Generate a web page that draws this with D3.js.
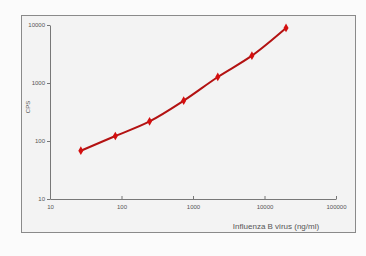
<!DOCTYPE html>
<html>
<head>
<meta charset="utf-8">
<script src="https://cdn.jsdelivr.net/npm/d3@7"></script>
<style>
  body { margin: 0; background: #fbfbfb; }
  text { font-family: "Liberation Sans", Arial, sans-serif; fill: #555; }
</style>
</head>
<body>
<div id="chart"></div>
<script>
// data
var concentration = [27, 82, 247, 741, 2222, 6667, 20000];
var cps = [68, 122, 218, 496, 1270, 2960, 8900];
var xTicks = [10, 100, 1000, 10000, 100000];
var yTicks = [10, 100, 1000, 10000];

var width = 366, height = 256;

var svg = d3.select("#chart").append("svg")
    .attr("width", width)
    .attr("height", height);

// frame
svg.append("rect")
    .attr("x", 21.5).attr("y", 15.5)
    .attr("width", 334).attr("height", 217)
    .attr("fill", "#f3f3f3")
    .attr("stroke", "#8a8a8a");

var x = d3.scaleLog().domain([10, 100000]).range([50, 336]);
var y = d3.scaleLog().domain([10, 10000]).range([199, 25]);

var fmt = function (d) { return d3.format("d")(d); };

var gx = svg.append("g")
    .attr("transform", "translate(0,199)")
    .call(d3.axisBottom(x).tickValues(xTicks).tickFormat(fmt).tickSizeInner(-3).tickSizeOuter(0).tickPadding(6));

var gy = svg.append("g")
    .attr("transform", "translate(50,0)")
    .call(d3.axisLeft(y).tickValues(yTicks).tickFormat(fmt).tickSizeInner(3).tickSizeOuter(0).tickPadding(2));

[gx, gy].forEach(function (g) {
    g.select(".domain").attr("stroke", "#777");
    g.selectAll(".tick line").attr("stroke", "#777");
    g.selectAll("text").style("font-size", "6px").attr("fill", "#555");
});

// axis titles
svg.append("text")
    .attr("transform", "translate(30,107) rotate(-90)")
    .attr("text-anchor", "middle")
    .style("font-size", "6px")
    .text("CPS");

svg.append("text")
    .attr("x", 276).attr("y", 229)
    .attr("text-anchor", "middle")
    .style("font-size", "8px")
    .text("Influenza B virus (ng/ml)");

var pts = concentration.map(function (c, i) { return [c, cps[i]]; });

var line = d3.line()
    .x(function (d) { return x(d[0]); })
    .y(function (d) { return y(d[1]); })
    .curve(d3.curveCatmullRom);

svg.append("path")
    .datum(pts)
    .attr("d", line)
    .attr("fill", "none")
    .attr("stroke", "#b31212")
    .attr("stroke-width", 2);

svg.selectAll(".pt")
    .data(pts)
    .enter().append("path")
    .attr("class", "pt")
    .attr("transform", function (d) { return "translate(" + x(d[0]) + "," + y(d[1]) + ")"; })
    .attr("d", d3.symbol().type(d3.symbolDiamond).size(22))
    .attr("fill", "#d40f0f");
</script>
</body>
</html>
